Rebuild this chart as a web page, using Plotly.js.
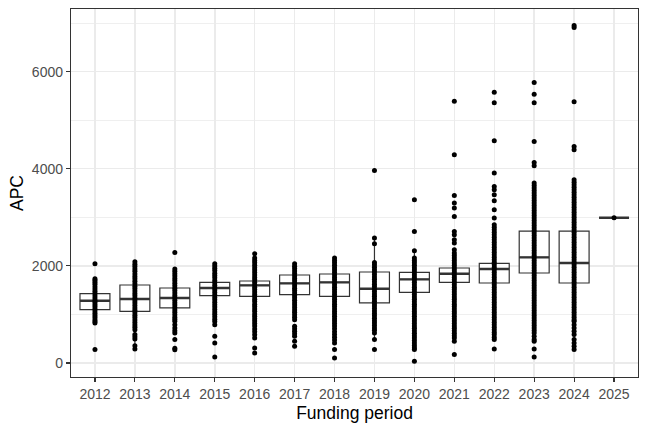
<!DOCTYPE html>
<html>
<head>
<meta charset="utf-8">
<script src="https://cdn.plot.ly/plotly-3.0.1.min.js"></script>
<style>
  html, body { margin: 0; padding: 0; background: #fff; }
  #chart { width: 648px; height: 432px; }
</style>
</head>
<body>
<div id="chart"></div>
<script>
// funding periods (x categories)
var years = ['2012', '2013', '2014', '2015', '2016', '2017', '2018',
             '2019', '2020', '2021', '2022', '2023', '2024', '2025'];

// box statistics per period
var q1Vals     = [1097, 1062, 1132, 1385, 1371, 1406, 1371, 1235, 1453, 1659, 1646, 1852, 1646, 2990];
var medianVals = [1282, 1317, 1338, 1543, 1597, 1638, 1659, 1529, 1721, 1838, 1934, 2173, 2058, 2990];
var q3Vals     = [1426, 1605, 1543, 1659, 1687, 1811, 1832, 1873, 1865, 1955, 2050, 2716, 2716, 2990];
var lowWhisker = [823, 288, 617, 1002, 912, 891, 702, 480, 862, 1312, 1046, 570, 274, 2990];
var highWhisker = [1735, 2085, 1934, 2043, 2161, 2043, 2161, 2572, 2311, 2332, 2640, 3704, 3772, 2990];

// individual APC values (dense columns sampled as seen)
var apc2012 = [2043, 1735, 1702, 1664, 1618, 1571, 1523, 1476, 1430, 1385, 1338, 1292, 1251, 1204,
               1160, 1115, 1068, 1022, 978, 934, 889, 851, 823, 274];
var apc2013 = [2085, 2031, 1985, 1934, 1886, 1833, 1781, 1735, 1684, 1632, 1581, 1533, 1482, 1430,
               1384, 1331, 1279, 1233, 1182, 1130, 1084, 1032, 981, 933, 884, 832, 781, 733, 685,
               583, 540, 494, 356, 288];
var apc2014 = [2276, 1934, 1888, 1839, 1792, 1741, 1690, 1643, 1591, 1540, 1492, 1441, 1390, 1343,
               1291, 1240, 1192, 1141, 1090, 1043, 991, 942, 899, 856, 788, 720, 663, 617, 480, 300, 270];
var apc2015 = [2043, 1998, 1951, 1902, 1849, 1800, 1752, 1699, 1650, 1602, 1549, 1500, 1452, 1399,
               1350, 1302, 1249, 1200, 1152, 1099, 1050, 1002, 949, 900, 852, 788, 548, 412, 123];
var apc2016 = [2249, 2161, 2112, 2063, 2010, 1961, 1912, 1863, 1810, 1761, 1712, 1663, 1610, 1561,
               1512, 1463, 1410, 1361, 1312, 1263, 1210, 1161, 1112, 1063, 1010, 961, 912, 863, 810,
               758, 701, 640, 580, 515, 309, 206];
var apc2017 = [2043, 1992, 1943, 1891, 1840, 1792, 1741, 1690, 1642, 1591, 1540, 1492, 1441, 1390,
               1342, 1291, 1240, 1192, 1141, 1090, 1042, 991, 940, 891, 754, 702, 651, 600, 548, 445, 342];
var apc2018 = [2161, 2110, 2062, 2011, 1960, 1912, 1861, 1810, 1762, 1711, 1660, 1612, 1561, 1510,
               1462, 1411, 1360, 1312, 1261, 1210, 1162, 1111, 1060, 1012, 961, 910, 862, 811, 760,
               702, 640, 583, 530, 470, 412, 274, 103];
var apc2019 = [3963, 2572, 2455, 2071, 2022, 1971, 1920, 1872, 1821, 1770, 1722, 1671, 1620, 1572,
               1521, 1470, 1422, 1371, 1320, 1272, 1221, 1170, 1122, 1071, 1020, 972, 921, 870, 822,
               771, 720, 672, 617, 480, 274];
var apc2020 = [3361, 2709, 2311, 2161, 2110, 2062, 2011, 1960, 1912, 1861, 1810, 1762, 1711, 1660,
               1612, 1561, 1510, 1462, 1411, 1360, 1312, 1261, 1210, 1162, 1111, 1060, 1012, 961, 910,
               862, 811, 760, 712, 661, 610, 562, 511, 460, 412, 361, 312, 274, 33];
var apc2021 = [5392, 4287, 3449, 3293, 3190, 3017, 2709, 2640, 2537, 2469, 2332, 2264, 2213, 2161,
               2112, 2060, 2011, 1960, 1912, 1861, 1810, 1762, 1711, 1660, 1612, 1561, 1510, 1462,
               1411, 1360, 1312, 1261, 1210, 1162, 1111, 1060, 1012, 961, 910, 862, 811, 760, 712,
               661, 610, 562, 511, 445, 171];
var apc2022 = [5577, 5357, 4575, 3910, 3634, 3566, 3464, 3340, 3155, 2984, 2846, 2795, 2743, 2692,
               2640, 2589, 2537, 2486, 2434, 2383, 2332, 2280, 2229, 2177, 2126, 2074, 2023, 1972,
               1920, 1869, 1817, 1766, 1714, 1663, 1612, 1560, 1509, 1457, 1406, 1354, 1303, 1251,
               1200, 1149, 1097, 1046, 994, 943, 891, 840, 788, 737, 685, 634, 583, 531, 480, 288];
var apc2023 = [5775, 5536, 5357, 4561, 4128, 4060, 3704, 3652, 3601, 3549, 3498, 3446, 3395, 3343,
               3292, 3240, 3189, 3137, 3086, 3035, 2983, 2932, 2880, 2829, 2777, 2726, 2674, 2623,
               2571, 2520, 2468, 2417, 2366, 2314, 2263, 2211, 2160, 2108, 2057, 2005, 1954, 1902,
               1851, 1799, 1748, 1697, 1645, 1594, 1542, 1491, 1439, 1388, 1336, 1285, 1233, 1182,
               1130, 1079, 1028, 976, 925, 873, 822, 770, 719, 667, 616, 548, 480, 445, 288, 123];
var apc2024 = [6950, 6910, 5378, 4458, 4390, 3772, 3720, 3669, 3617, 3566, 3514, 3463, 3412, 3360,
               3309, 3257, 3206, 3154, 3103, 3051, 3000, 2949, 2897, 2846, 2794, 2743, 2691, 2640,
               2589, 2537, 2486, 2434, 2383, 2331, 2280, 2229, 2177, 2126, 2074, 2023, 1971, 1920,
               1869, 1817, 1766, 1714, 1663, 1611, 1560, 1509, 1457, 1406, 1354, 1303, 1251, 1200,
               1149, 1097, 1046, 994, 943, 891, 856, 788, 720, 651, 583, 480, 412, 342, 274];
var apc2025 = [2990];

var apcByYear = [apc2012, apc2013, apc2014, apc2015, apc2016, apc2017, apc2018,
                 apc2019, apc2020, apc2021, apc2022, apc2023, apc2024, apc2025];

var lineCol = '#333333';
var gridCol = '#EBEBEB';
var fontFam = "'Liberation Sans', Arial, sans-serif";

// flatten points into one scatter trace
var ptX = [], ptY = [];
apcByYear.forEach(function(vals, i) {
    vals.forEach(function(v) {
        ptX.push(years[i]);
        ptY.push(v);
    });
});

var boxTrace = {
    type: 'box',
    x: years,
    q1: q1Vals,
    median: medianVals,
    q3: q3Vals,
    lowerfence: lowWhisker,
    upperfence: highWhisker,
    width: 0.75,
    whiskerwidth: 0,
    fillcolor: '#ffffff',
    line: { color: lineCol, width: 1.2 },
    hoverinfo: 'skip',
    showlegend: false
};

// thicker median bar drawn as a collapsed box
var medianTrace = {
    type: 'box',
    x: years,
    q1: medianVals,
    median: medianVals,
    q3: medianVals,
    lowerfence: medianVals,
    upperfence: medianVals,
    width: 0.75,
    whiskerwidth: 0,
    fillcolor: 'rgba(0,0,0,0)',
    line: { color: lineCol, width: 2.4 },
    hoverinfo: 'skip',
    showlegend: false
};

var pointTrace = {
    type: 'scatter',
    mode: 'markers',
    x: ptX,
    y: ptY,
    marker: { color: '#000000', size: 5 },
    hoverinfo: 'skip',
    showlegend: false
};

var layout = {
    width: 648,
    height: 432,
    margin: { l: 71, r: 10, t: 9, b: 55 },
    paper_bgcolor: '#ffffff',
    plot_bgcolor: '#ffffff',
    font: { family: fontFam, color: '#4D4D4D', size: 14 },
    boxmode: 'overlay',
    showlegend: false,
    xaxis: {
        type: 'category',
        categoryorder: 'array',
        categoryarray: years,
        range: [-0.6, 13.6],
        showgrid: true,
        gridcolor: gridCol,
        gridwidth: 1.5,
        zeroline: false,
        ticks: 'outside',
        ticklen: 4,
        tickwidth: 1.2,
        tickcolor: lineCol,
        showline: true,
        mirror: true,
        linecolor: lineCol,
        linewidth: 1.2,
        tickfont: { size: 14, color: '#4D4D4D' },
        title: { text: 'Funding period', font: { size: 17.5, color: '#000000' }, standoff: 5 }
    },
    yaxis: {
        range: [-290, 7290],
        tickmode: 'linear',
        tick0: 0,
        dtick: 2000,
        showgrid: true,
        gridcolor: gridCol,
        gridwidth: 1.5,
        minor: { dtick: 1000, showgrid: true, gridcolor: gridCol, gridwidth: 0.8 },
        zeroline: false,
        ticks: 'outside',
        ticklen: 4,
        tickwidth: 1.2,
        tickcolor: lineCol,
        showline: true,
        mirror: true,
        linecolor: lineCol,
        linewidth: 1.2,
        tickfont: { size: 14, color: '#4D4D4D' },
        title: { text: 'APC', font: { size: 17.5, color: '#000000' }, standoff: 3 }
    }
};

Plotly.newPlot('chart', [boxTrace, medianTrace, pointTrace], layout, { staticPlot: true, displayModeBar: false });
</script>
</body>
</html>
